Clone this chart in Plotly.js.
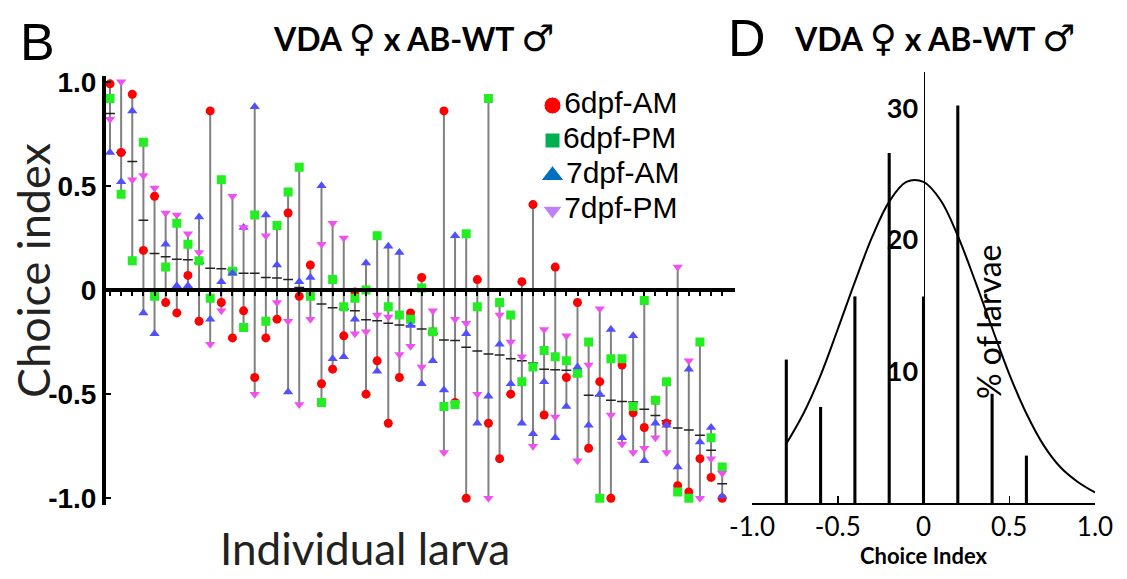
<!DOCTYPE html>
<html>
<head>
<meta charset="utf-8">
<script src="https://cdn.plot.ly/plotly-3.0.1.min.js"></script>
<style>html,body{margin:0;padding:0;background:#fff;}#chart{width:1127px;height:579px;}</style>
</head>
<body>
<div id="chart"></div>
<script>
// ---------- Panel B: choice index per individual larva ----------
const larva = [1,2,3,4,5,6,7,8,9,10,11,12,13,14,15,16,17,18,19,20,21,22,23,24,25,26,27,28,
  29,30,31,32,33,34,35,36,37,38,39,40,41,42,43,44,45,46,47,48,49,50,51,52,53,54,55,56];
const am6 = [0.99,0.66,0.94,0.19,0.45,-0.06,-0.11,0.07,-0.15,0.86,-0.06,-0.23,-0.10,-0.42,-0.23,-0.14,
  0.37,-0.03,0.12,-0.45,-0.38,-0.22,-0.01,-0.50,-0.34,-0.64,-0.42,-0.11,0.06,-0.20,0.86,-0.54,
  -1.0,0.05,-0.64,-0.81,-0.50,0.04,0.41,-0.60,0.11,-0.42,-0.06,-0.76,-0.44,-1.0,-0.36,-0.59,
  -0.66,-0.53,-0.64,-0.94,-0.97,-0.81,-0.90,-1.0];
const pm6 = [0.92,0.46,0.14,0.71,-0.03,0.11,0.32,0.22,0.14,-0.04,0.53,0.09,-0.18,0.36,-0.15,0.31,
  0.47,0.59,-0.03,-0.54,0.05,-0.08,-0.04,0.00,0.26,-0.08,-0.12,-0.14,0.01,-0.20,-0.56,-0.55,
  0.27,-0.08,0.92,-0.06,-0.12,-0.44,-0.37,-0.29,-0.32,-0.34,-0.40,-0.25,-1.0,-0.33,-0.33,-0.56,
  -0.05,-0.53,-0.44,-0.97,-1.0,-0.25,-0.71,-0.85];
const am7 = [0.66,0.52,0.86,-0.11,-0.21,0.22,0.02,0.02,0.35,-0.14,0.04,0.08,0.30,0.88,0.36,0.12,
  -0.49,0.04,0.06,0.50,-0.33,-0.32,-0.14,0.13,-0.39,0.21,0.18,-0.17,-0.45,-0.34,-0.48,0.26,
  -0.21,-0.64,-0.51,-0.26,-0.45,-0.64,-0.69,-0.44,-0.71,-0.56,-0.37,-0.65,-0.50,-0.19,-0.71,-0.22,
  -0.82,-0.64,-0.65,-0.85,-0.38,-0.73,-0.66,-0.99];
const pm7 = [0.82,1.0,0.53,0.55,0.49,0.37,0.36,0.27,0.18,-0.26,-0.10,0.45,0.30,-0.50,0.26,-0.06,
  -0.15,-0.55,-0.14,0.22,0.32,0.25,-0.21,-0.20,-0.12,-0.13,-0.31,-0.27,-0.37,-0.10,-0.78,-0.14,
  -0.16,-0.50,-1.0,-0.12,-0.25,-0.32,-0.75,-0.19,-0.61,-0.22,-0.82,-0.36,-0.09,-0.60,-0.74,-0.78,
  -0.76,-0.71,-0.78,0.11,-0.34,-1.0,-0.81,-0.88];
const seriesNames = ['6dpf-AM','6dpf-PM','7dpf-AM','7dpf-PM'];
const legendSlots = [0, 1, 2, 3];

// ---------- Panel D: distribution ----------
const histX = [-0.8,-0.6,-0.4,-0.2,0,0.2,0.4,0.6];
const histPct = [10.9,7.3,15.7,26.6,15.7,30.2,8.3,3.6];
const curveX = [-0.8,-0.7,-0.6,-0.5,-0.4,-0.3,-0.2,-0.1,0,0.1,0.2,0.3,0.4,0.5,0.6,0.7,0.8,0.9,1.0];
const curveY = [4.5,6.8,9.7,13.2,16.8,20.2,22.9,24.4,24.4,23.0,20.3,16.9,13.3,9.8,6.8,4.4,2.7,1.6,0.8];

// ranges and means derived from the data
const all = [am6, pm6, am7, pm7];
const rx = [], ry = [], means = [];
larva.forEach((l, i) => {
  const v = all.map(a => a[i]);
  rx.push(l, l, null);
  ry.push(Math.min(...v), Math.max(...v), null);
  means.push(v.reduce((s, x) => s + x, 0) / v.length);
});

const dataCol = ['#ff0000', '#22ee22', '#5050ff', '#f050f0'];
const legCol = ['#ff0000', '#00b050', '#0070c0', '#c080f8'];
const syms = ['circle', 'square', 'triangle-up', 'triangle-down'];

const traces = [
  {x: rx, y: ry, type: 'scatter', mode: 'lines', line: {color: '#808080', width: 2},
   showlegend: false, hoverinfo: 'skip', xaxis: 'x', yaxis: 'y'},
  {x: larva, y: means, type: 'scatter', mode: 'markers', name: 'mean',
   marker: {symbol: 'line-ew', size: 7, line: {color: '#222', width: 1.5}},
   showlegend: false, xaxis: 'x', yaxis: 'y'}
];
all.forEach((arr, k) => {
  traces.push({x: larva, y: arr, type: 'scatter', mode: 'markers', name: seriesNames[k],
    marker: {symbol: syms[k], color: dataCol[k], size: 9}, showlegend: false, xaxis: 'x', yaxis: 'y'});
});
// legend (key) drawn as a small marker+text column on its own hidden axes
traces.push({x: legendSlots.map(() => 0.5), y: legendSlots, type: 'scatter', mode: 'markers+text',
  text: seriesNames, textposition: 'middle right', cliponaxis: false,
  textfont: {family: 'Liberation Sans', size: 30, color: '#000'},
  marker: {symbol: syms, color: legCol, size: [17, 15, 20, 17], opacity: 1},
  showlegend: false, xaxis: 'x3', yaxis: 'y3'});
traces.push({x: histX, y: histPct, type: 'bar', width: 0.018, marker: {color: '#000'},
  showlegend: false, xaxis: 'x2', yaxis: 'y2'});
traces.push({x: curveX, y: curveY, type: 'scatter', mode: 'lines',
  line: {color: '#000', width: 2, shape: 'spline'}, showlegend: false, xaxis: 'x2', yaxis: 'y2'});

const W = 1127, H = 579;
const px = v => v / W, py = v => 1 - v / H;
const sym = s => '<span style="font-family:DejaVu Sans;font-size:37px">' + s + '</span>';
const titleText = 'VDA ' + sym('♀') + ' x AB-WT ' + sym('♂');

const layout = {
  width: W, height: H,
  margin: {l: 0, r: 0, t: 0, b: 0},
  paper_bgcolor: '#fff', plot_bgcolor: 'rgba(0,0,0,0)',
  showlegend: false,
  xaxis: {domain: [px(104), px(735)], range: [0.46, 57.15], anchor: 'free', position: py(290),
    showline: true, linewidth: 4, linecolor: '#000', ticks: 'outside', tickvals: larva,
    ticklen: 4, tickwidth: 2, tickcolor: '#000', showticklabels: false, showgrid: false, zeroline: false},
  yaxis: {domain: [py(504.5), py(75.5)], range: [-1.03, 1.03], anchor: 'free', position: px(104),
    showline: true, linewidth: 4, linecolor: '#000', ticks: 'inside', ticklen: 5, tickwidth: 2,
    tickcolor: '#000', tickvals: [-1, -0.5, 0, 0.5, 1], ticktext: ['-1.0', '-0.5', '0', '0.5', '1.0'],
    tickfont: {family: 'Liberation Sans', size: 28, weight: 'bold', color: '#000'},
    showgrid: false, zeroline: false},
  xaxis2: {domain: [px(752), px(1095)], range: [-1, 1], anchor: 'y2', showline: true, linewidth: 2,
    linecolor: '#000', ticks: 'inside', ticklen: 7, tickwidth: 1.5, tickcolor: '#000',
    tickvals: [-1, -0.5, 0, 0.5, 1], ticktext: ['-1.0', '-0.5', '0', '0.5', '1.0'],
    tickfont: {family: 'Lato', size: 26, color: '#000'}, showgrid: false, zeroline: false,
    title: {text: 'Choice Index', font: {family: 'Lato', size: 22, weight: 'bold', color: '#000'}, standoff: 2}},
  yaxis2: {domain: [py(503), py(72)], range: [0, 32.75], anchor: 'free', position: px(923.5),
    showline: true, linewidth: 1.5, linecolor: '#000', ticks: '', tickvals: [10, 20, 30],
    tickfont: {family: 'Lato', size: 27, weight: 'bold', color: '#000'}, ticklabelstandoff: 0,
    showgrid: false, zeroline: false},
  xaxis3: {domain: [px(545), px(560)], range: [0, 1], anchor: 'y3', visible: false, fixedrange: true},
  yaxis3: {domain: [py(228), py(88)], range: [3.5, -0.5], anchor: 'x3', visible: false, fixedrange: true},
  annotations: [
    {text: 'B', x: px(37), y: py(42), xref: 'paper', yref: 'paper', showarrow: false,
     xanchor: 'center', yanchor: 'middle', font: {family: 'Liberation Sans', size: 52, color: '#000'}},
    {text: 'D', x: px(747), y: py(38), xref: 'paper', yref: 'paper', showarrow: false,
     xanchor: 'center', yanchor: 'middle', font: {family: 'Liberation Sans', size: 52, color: '#000'}},
    {text: titleText, x: px(414), y: py(38), xref: 'paper', yref: 'paper', showarrow: false,
     xanchor: 'center', yanchor: 'middle', font: {family: 'Lato', size: 32, weight: 'bold', color: '#000'}},
    {text: titleText, x: px(935), y: py(38), xref: 'paper', yref: 'paper', showarrow: false,
     xanchor: 'center', yanchor: 'middle', font: {family: 'Lato', size: 32, weight: 'bold', color: '#000'}},
    {text: 'Choice index', x: px(33), y: py(271), xref: 'paper', yref: 'paper', showarrow: false,
     xanchor: 'center', yanchor: 'middle', textangle: -90, font: {family: 'Lato', size: 45, color: '#222'}},
    {text: 'Individual larva', x: px(365), y: py(548), xref: 'paper', yref: 'paper', showarrow: false,
     xanchor: 'center', yanchor: 'middle', font: {family: 'Lato', size: 44, color: '#222'}},
    {text: '% of larvae', x: px(988), y: py(322), xref: 'paper', yref: 'paper', showarrow: false,
     xanchor: 'center', yanchor: 'middle', textangle: -90, font: {family: 'Lato', size: 32, color: '#000'}}
  ]
};

Plotly.newPlot('chart', traces, layout, {displayModeBar: false, staticPlot: true});
</script>
</body>
</html>
